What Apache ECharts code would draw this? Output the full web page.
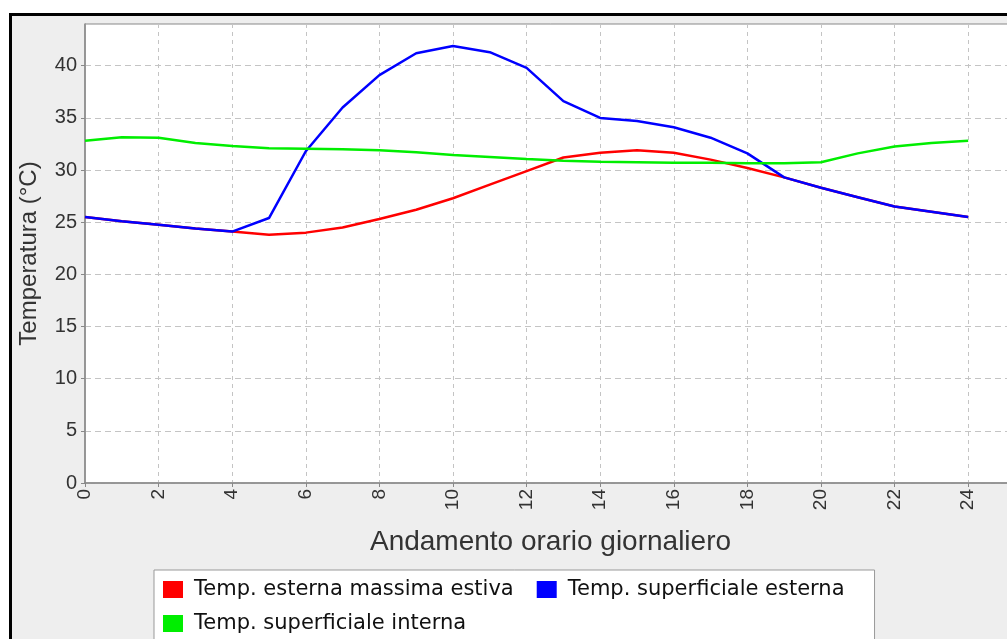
<!DOCTYPE html>
<html>
<head>
<meta charset="utf-8">
<script src="https://cdn.jsdelivr.net/npm/echarts@6/dist/echarts.min.js"></script>
<style>
  html, body { margin: 0; padding: 0; background: #fff; overflow: hidden; }
  #frame {
    position: absolute; left: 9px; top: 13px; width: 1100px; height: 700px;
    border-left: 3px solid #000; border-top: 3px solid #000; background: #eeeeee;
  }
  /* più largo della finestra: il grafico prosegue oltre il bordo destro */
  #chart { position: absolute; left: 0; top: 0; width: 1040px; height: 639px; }
</style>
</head>
<body>
<div id="frame"></div>
<div id="chart"></div>
<script>
// ore del giorno
const hours = [0, 1, 2, 3, 4, 5, 6, 7, 8, 9, 10, 11, 12, 13, 14, 15, 16, 17, 18, 19, 20, 21, 22, 23, 24];

// valori (°C)
const tEsternaMax = [25.5, 25.1, 24.75, 24.4, 24.1, 23.8, 24.0, 24.5, 25.3, 26.2, 27.3, 28.6, 29.9,
  31.2, 31.65, 31.9, 31.65, 31.0, 30.2, 29.3, 28.3, 27.4, 26.5, 26.0, 25.5];
const tSupEsterna = [25.5, 25.1, 24.75, 24.4, 24.1, 25.4, 31.8, 36.0, 39.1, 41.2, 41.9, 41.3, 39.8,
  36.6, 35.0, 34.7, 34.1, 33.1, 31.6, 29.3, 28.3, 27.4, 26.5, 26.0, 25.5];
const tSupInterna = [32.8, 33.15, 33.1, 32.6, 32.3, 32.1, 32.05, 32.0, 31.9, 31.7, 31.45, 31.25, 31.05,
  30.9, 30.8, 30.75, 30.7, 30.7, 30.65, 30.65, 30.75, 31.6, 32.25, 32.6, 32.8];

const seriesNames = ['Temp. esterna massima estiva', 'Temp. superficiale esterna', 'Temp. superficiale interna'];
const seriesColors = ['#ff0000', '#0000ff', '#00ee00'];

const pair = arr => hours.map((h, i) => [h, arr[i]]);

const chart = echarts.init(document.getElementById('chart'), null, { renderer: 'canvas' });

const lineSeries = (name, data, color) => ({
  name,
  type: 'line',
  data: pair(data),
  showSymbol: false,
  symbol: 'none',
  color,
  lineStyle: { color, width: 2.5 },
  animation: false,
});

chart.setOption({
  backgroundColor: 'transparent',
  animation: false,
  textStyle: { fontFamily: 'Liberation Sans' },
  grid: {
    left: 85, top: 24, width: 931, bottom: 156,
    show: true, backgroundColor: '#fff', borderColor: '#888', borderWidth: 1,
  },
  // legenda in basso
  legend: {
    left: 154, top: 570,
    width: 700,
    padding: [9, 20, 20, 9],
    itemGap: 13,
    itemWidth: 20, itemHeight: 17,
    icon: 'rect',
    backgroundColor: '#fff',
    borderColor: '#999', borderWidth: 1,
    textStyle: {
      fontFamily: 'DejaVu Sans', fontSize: 21, color: '#111',
      lineHeight: 20, padding: [0, 10, 0, 6],
    },
    data: seriesNames,
  },
  xAxis: {
    type: 'value',
    min: 0, max: 25.3, interval: 2,
    name: 'Andamento orario giornaliero',
    nameLocation: 'middle', nameGap: 45,
    nameTextStyle: { fontSize: 28, color: '#333' },
    axisLine: { show: true, lineStyle: { color: '#888', width: 1.5 } },
    axisTick: { show: true, length: 4, lineStyle: { color: '#888' } },
    axisLabel: {
      rotate: 90, fontSize: 19, color: '#333', margin: 6,
      showMaxLabel: false,
    },
    splitLine: { show: true, lineStyle: { color: '#c4c4c4', type: [4, 4], width: 1 } },
  },
  yAxis: {
    type: 'value',
    min: 0, max: 44, interval: 5,
    name: 'Temperatura (°C)',
    nameLocation: 'middle', nameGap: 44,
    nameTextStyle: { fontSize: 24, color: '#333' },
    axisLine: { show: true, lineStyle: { color: '#888', width: 1.5 } },
    axisTick: { show: true, length: 4, lineStyle: { color: '#888' } },
    axisLabel: { fontSize: 20, color: '#333', margin: 8, showMaxLabel: false },
    splitLine: { show: true, lineStyle: { color: '#c4c4c4', type: [6, 4], width: 1 } },
  },
  series: [
    lineSeries(seriesNames[0], tEsternaMax, seriesColors[0]),
    lineSeries(seriesNames[1], tSupEsterna, seriesColors[1]),
    lineSeries(seriesNames[2], tSupInterna, seriesColors[2]),
  ],
});
</script>
</body>
</html>
